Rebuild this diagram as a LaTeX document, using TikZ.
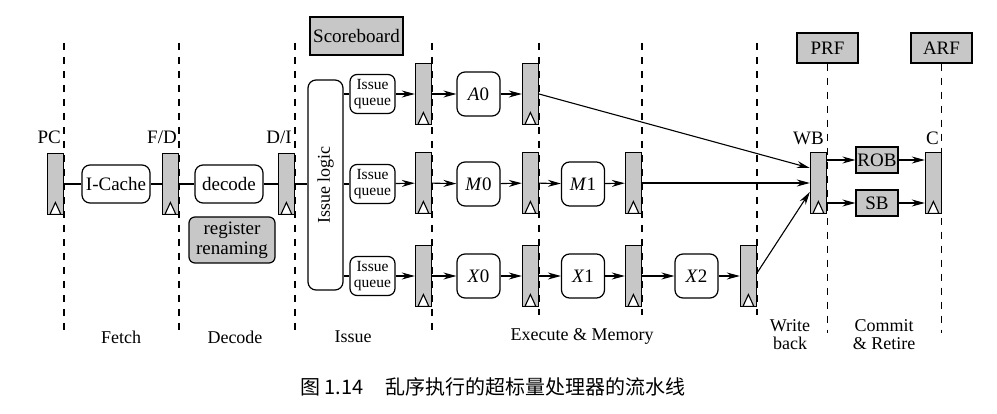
\documentclass[tikz,border=0pt]{standalone}
\usepackage{fontspec}
\setmainfont{Liberation Serif}
\newfontfamily\cjk{Noto Sans CJK SC}
\usetikzlibrary{arrows.meta}
\begin{document}
\begin{tikzpicture}[x=1pt,y=-1pt,
  every node/.style={font=\fontsize{19}{21}\selectfont, inner sep=0pt},
  rbox/.style={draw, line width=1.2pt, rounded corners=8pt, fill=white, align=center},
  gbox/.style={draw, line width=1.2pt, fill=black!22, align=center},
  reg/.style={draw, line width=1.2pt, fill=black!22, minimum width=16pt, minimum height=61pt, anchor=east,
     path picture={\draw[line width=1.1pt, fill=white]
       ([xshift=2.5pt]path picture bounding box.south west) --
       ([yshift=12pt]path picture bounding box.south) --
       ([xshift=-2.5pt]path picture bounding box.south east) -- cycle;}},
  conn/.style={line width=1.1pt},
  arr/.style={line width=1.1pt, -{Stealth[length=13pt,width=7pt]}},
  divider/.style={line width=1.1pt, dash pattern=on 7pt off 7pt},
  lab/.style={font=\fontsize{18}{18}\selectfont, align=center},
  tag/.style={anchor=east},
  iq/.style={rbox, rounded corners=7pt, minimum width=45pt, minimum height=39pt, font=\fontsize{15.5}{15.5}\selectfont},
  ex/.style={rbox, minimum width=43pt, minimum height=44pt},
]
\useasboundingbox (0,0) rectangle (997,414);

% stage dividers
\foreach \x/\b in {64/335,179/335,295/335,432/333,539/315,642/315,757/315}
  \draw[divider] (\x,43) -- (\x,\b);

% register files on top
\node[gbox, minimum width=61pt, minimum height=30pt] (PRF) at (827.5,48) {PRF};
\node[gbox, minimum width=61pt, minimum height=30pt] (ARF) at (941.5,48) {ARF};
\draw[divider] (PRF.south) -- ++(0,269);
\draw[divider] (ARF.south) -- ++(0,269);

% pipeline registers
\node[reg] (PC) at (64,184) {};
\node[reg] (FD) at (179,184) {};
\node[reg] (DI) at (295,184) {};
\node[reg] (A1) at (432,94) {};
\node[reg] (M1r) at (432,183) {};
\node[reg] (X1r) at (432,276) {};
\node[reg] (A2) at (539,94) {};
\node[reg] (M2) at (539,183) {};
\node[reg] (X2r) at (539,276) {};
\node[reg] (M3) at (642,183) {};
\node[reg] (X3) at (642,276) {};
\node[reg] (X4) at (757,276) {};
\node[reg] (WB) at (827,183) {};
\node[reg] (C) at (942,183) {};

% register labels
\node[tag] (lPC) at (61,137) {PC};
\node[tag] (lFD) at (177,137) {F/D};
\node[tag] (lDI) at (292,137) {D/I};
\node[tag] (lWB) at (824,138) {WB};
\node[tag] (lC) at (939,138) {C};

% front end
\node[rbox, minimum width=68pt, minimum height=38pt] (ic) at (116,184) {I-Cache};
\node[rbox, minimum width=68pt, minimum height=38pt] (dec) at (229,184) {decode};
\node[gbox, rounded corners=6pt, minimum width=86pt, minimum height=46pt, font=\fontsize{19}{20}\selectfont] (rr) at (232,240) {register\\renaming};
\node[rbox, rotate=90, minimum width=210pt, minimum height=35pt, font=\fontsize{18}{20}\selectfont] (il) at (325.5,185) {Issue logic};
\node[gbox, minimum width=93pt, minimum height=38pt] (score) at (356.5,36) {Scoreboard};

% issue queues
\node[iq] (iqA) at (372.5,94) {Issue\\queue};
\node[iq] (iqM) at (372.5,184) {Issue\\queue};
\node[iq] (iqX) at (372.5,276) {Issue\\queue};

% execution units
\node[ex] (A0) at (478.5,94) {\textit{A}0};
\node[ex] (M0) at (478.5,184) {\textit{M}0};
\node[ex] (X0) at (478.5,276) {\textit{X}0};
\node[ex] (M1b) at (583,184) {\textit{M}1};
\node[ex] (X1b) at (583,276) {\textit{X}1};
\node[ex] (X2b) at (696.5,276) {\textit{X}2};

% commit
\node[gbox, minimum width=42pt, minimum height=26pt] (ROB) at (877,160) {ROB};
\node[gbox, minimum width=42pt, minimum height=26pt] (SB) at (877,203) {SB};

% connectors
\draw[conn] (PC) -- (ic);
\draw[conn] (ic) -- (FD);
\draw[conn] (FD) -- (dec);
\draw[conn] (dec) -- (DI);
\draw[conn] (DI) -- (DI -| il.north);
\draw[conn] (iqA.west -| il.south) -- (iqA.west);
\draw[conn] (iqM.west -| il.south) -- (iqM.west);
\draw[conn] (iqX.west -| il.south) -- (iqX.west);

\draw[arr] (iqA) -- (A1);
\draw[arr] (A1) -- (A0);
\draw[arr] (A0) -- (A2);
\draw[arr] (A2.east) -- ([yshift=15pt]WB.west);

\draw[arr] (iqM) -- (M1r);
\draw[arr] (M1r) -- (M0);
\draw[arr] (M0) -- (M2);
\draw[arr] (M2) -- (M1b);
\draw[arr] (M1b) -- (M3);
\draw[arr] (M3) -- (WB);

\draw[arr] (iqX) -- (X1r);
\draw[arr] (X1r) -- (X0);
\draw[arr] (X0) -- (X2r);
\draw[arr] (X2r) -- (X1b);
\draw[arr] (X1b) -- (X3);
\draw[arr] (X3) -- (X2b);
\draw[arr] (X2b) -- (X4);
\draw[arr] ([yshift=3pt]X4.east) -- ([yshift=-9pt]WB.west);

\draw[arr] (ROB.west -| WB.east) -- (ROB);
\draw[arr] (SB.west -| WB.east) -- (SB);
\draw[arr] (ROB) -- (ROB.east -| C.west);
\draw[arr] (SB) -- (SB.east -| C.west);

% stage names
\node[lab] (sF) at (121,337) {Fetch};
\node[lab] (sD) at (235,337) {Decode};
\node[lab] (sI) at (353,337) {Issue};
\node[lab] (sE) at (582,336) {Execute \& Memory};
\node[lab] (sW) at (790,335) {Write\\back};
\node[lab] (sC) at (884,335) {Commit\\\& Retire};

% caption
\node[anchor=west, font=\cjk\fontsize{20}{20}\selectfont] (cap) at (300,387) {图 1.14\hspace{22pt}乱序执行的超标量处理器的流水线};
\end{tikzpicture}
\end{document}
